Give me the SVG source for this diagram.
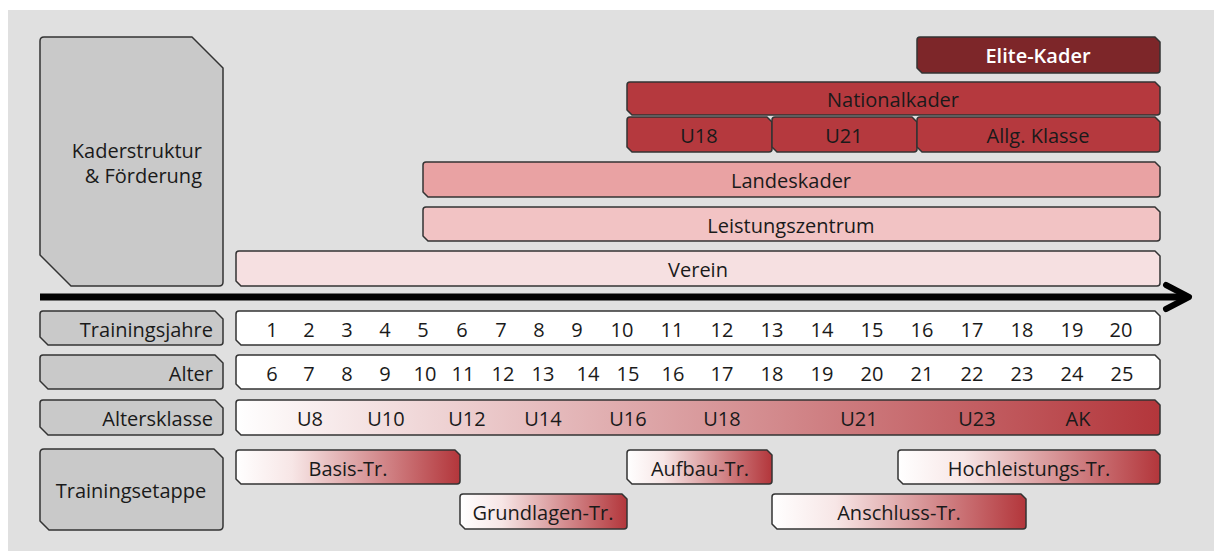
<svg xmlns="http://www.w3.org/2000/svg" width="1214" height="551" viewBox="0 0 1214 551">
<defs>
<linearGradient id="gRow" x1="0" y1="0" x2="1" y2="0">
<stop offset="0" stop-color="#ffffff"/>
<stop offset="1" stop-color="#b3363b"/>
</linearGradient>
<linearGradient id="gStage" x1="0" y1="0" x2="1" y2="0">
<stop offset="0" stop-color="#ffffff"/>
<stop offset="0.25" stop-color="#f7e6e6"/>
<stop offset="1" stop-color="#b3363b"/>
</linearGradient>
</defs>
<style>
.s{stroke:#333;stroke-width:1.5;stroke-linejoin:round}
.gray{fill:#c9c9c9}
.t{font-family:"Open Sans","Liberation Sans",Arial,sans-serif;font-size:20px;fill:#1a1a1a;text-anchor:middle}
.r{text-anchor:end}
.w{fill:#ffffff;font-weight:600}
.elite{fill:#7d2629}
.nat{fill:#b5393e}
.land{fill:#e9a2a3}
.leis{fill:#f2c3c4}
.ver{fill:#f6e0e1}
.white{fill:#ffffff}
.grad{fill:url(#gRow)}
.stage{fill:url(#gStage)}
.axis{stroke:#000;stroke-width:7;fill:none}
.head{stroke:#000;stroke-width:6;fill:none;stroke-linecap:round;stroke-linejoin:round}
</style>
<rect x="8" y="10" width="1206" height="541" fill="#e0e0e0"/>

<g id="kaderstruktur">
<path class="s gray" d="M44,37 H192 L223,68 V282 Q223,286 219,286 H71 L40,255 V41 Q40,37 44,37 Z"/>
<text class="t r" x="202" y="158">Kaderstruktur</text>
<text class="t r" x="202" y="183">&amp; Förderung</text>
</g>

<g id="elite-kader">
<path class="s elite" d="M920,37 H1155 L1160,42 V70 Q1160,73 1157,73 H922 L917,68 V40 Q917,37 920,37 Z"/>
<text class="t w" x="1038" y="63">Elite-Kader</text>
</g>

<g id="nationalkader">
<path class="s nat" d="M630,82 H1155 L1160,87 V112 Q1160,115 1157,115 H632 L627,110 V85 Q627,82 630,82 Z"/>
<text class="t" x="893" y="107">Nationalkader</text>
</g>

<g id="u18">
<path class="s nat" d="M630,117 H767 L772,122 V149 Q772,152 769,152 H632 L627,147 V120 Q627,117 630,117 Z"/>
<text class="t" x="699" y="143">U18</text>
</g>
<g id="u21">
<path class="s nat" d="M775,117 H912 L917,122 V149 Q917,152 914,152 H777 L772,147 V120 Q772,117 775,117 Z"/>
<text class="t" x="844" y="143">U21</text>
</g>
<g id="allg-klasse">
<path class="s nat" d="M920,117 H1155 L1160,122 V149 Q1160,152 1157,152 H922 L917,147 V120 Q917,117 920,117 Z"/>
<text class="t" x="1038" y="143">Allg. Klasse</text>
</g>

<g id="landeskader">
<path class="s land" d="M426,162 H1155 L1160,167 V194 Q1160,197 1157,197 H428 L423,192 V165 Q423,162 426,162 Z"/>
<text class="t" x="791" y="188">Landeskader</text>
</g>

<g id="leistungszentrum">
<path class="s leis" d="M426,207 H1155 L1160,212 V238 Q1160,241 1157,241 H428 L423,236 V210 Q423,207 426,207 Z"/>
<text class="t" x="791" y="233">Leistungszentrum</text>
</g>

<g id="verein">
<path class="s ver" d="M239,251 H1155 L1160,256 V283 Q1160,286 1157,286 H241 L236,281 V254 Q236,251 239,251 Z"/>
<text class="t" x="698" y="277">Verein</text>
</g>

<g id="connectors">
<line class="axis" x1="40" y1="297" x2="1186" y2="297"/>
<polyline class="head" points="1166,285 1189,297 1166,309"/>
</g>

<g id="trainingsjahre-label">
<path class="s gray" d="M43,311 H215 L223,319 V342 Q223,345 220,345 H48 L40,337 V314 Q40,311 43,311 Z"/>
<text class="t r" x="213" y="337">Trainingsjahre</text>
</g>
<g id="trainingsjahre">
<path class="s white" d="M239,311 H1155 L1160,316 V342 Q1160,345 1157,345 H241 L236,340 V314 Q236,311 239,311 Z"/>
<text class="t" x="272" y="337">1</text><text class="t" x="309" y="337">2</text><text class="t" x="347" y="337">3</text><text class="t" x="385" y="337">4</text><text class="t" x="423" y="337">5</text><text class="t" x="462" y="337">6</text><text class="t" x="501" y="337">7</text><text class="t" x="539" y="337">8</text><text class="t" x="577" y="337">9</text><text class="t" x="622" y="337">10</text><text class="t" x="672" y="337">11</text><text class="t" x="722" y="337">12</text><text class="t" x="772" y="337">13</text><text class="t" x="822" y="337">14</text><text class="t" x="872" y="337">15</text><text class="t" x="922" y="337">16</text><text class="t" x="972" y="337">17</text><text class="t" x="1022" y="337">18</text><text class="t" x="1072" y="337">19</text><text class="t" x="1121" y="337">20</text>
</g>

<g id="alter-label">
<path class="s gray" d="M43,355 H215 L223,363 V386 Q223,389 220,389 H48 L40,381 V358 Q40,355 43,355 Z"/>
<text class="t r" x="213" y="381">Alter</text>
</g>
<g id="alter">
<path class="s white" d="M239,355 H1155 L1160,360 V386 Q1160,389 1157,389 H241 L236,384 V358 Q236,355 239,355 Z"/>
<text class="t" x="272" y="381">6</text><text class="t" x="309" y="381">7</text><text class="t" x="347" y="381">8</text><text class="t" x="385" y="381">9</text><text class="t" x="425" y="381">10</text><text class="t" x="463" y="381">11</text><text class="t" x="503" y="381">12</text><text class="t" x="543" y="381">13</text><text class="t" x="588" y="381">14</text><text class="t" x="628" y="381">15</text><text class="t" x="673" y="381">16</text><text class="t" x="722" y="381">17</text><text class="t" x="772" y="381">18</text><text class="t" x="822" y="381">19</text><text class="t" x="872" y="381">20</text><text class="t" x="922" y="381">21</text><text class="t" x="972" y="381">22</text><text class="t" x="1022" y="381">23</text><text class="t" x="1072" y="381">24</text><text class="t" x="1122" y="381">25</text>
</g>

<g id="altersklasse-label">
<path class="s gray" d="M43,400 H215 L223,408 V432 Q223,435 220,435 H48 L40,427 V403 Q40,400 43,400 Z"/>
<text class="t r" x="213" y="426">Altersklasse</text>
</g>
<g id="altersklasse">
<path class="s grad" d="M239,400 H1155 L1160,405 V432 Q1160,435 1157,435 H241 L236,430 V403 Q236,400 239,400 Z"/>
<text class="t" x="310" y="426">U8</text><text class="t" x="386" y="426">U10</text><text class="t" x="467" y="426">U12</text><text class="t" x="543" y="426">U14</text><text class="t" x="628" y="426">U16</text><text class="t" x="722" y="426">U18</text><text class="t" x="859" y="426">U21</text><text class="t" x="977" y="426">U23</text><text class="t" x="1078" y="426">AK</text>
</g>

<g id="trainingsetappe-label">
<path class="s gray" d="M44,449 H214 L223,458 V526 Q223,530 219,530 H49 L40,521 V453 Q40,449 44,449 Z"/>
<text class="t" x="131" y="498">Trainingsetappe</text>
</g>

<g id="basis-tr">
<path class="s stage" d="M239,450 H455 L460,455 V481 Q460,484 457,484 H241 L236,479 V453 Q236,450 239,450 Z"/>
<text class="t" x="348" y="476">Basis-Tr.</text>
</g>
<g id="grundlagen-tr">
<path class="s stage" d="M463,494 H622 L627,499 V526 Q627,529 624,529 H465 L460,524 V497 Q460,494 463,494 Z"/>
<text class="t" x="543" y="520">Grundlagen-Tr.</text>
</g>
<g id="aufbau-tr">
<path class="s stage" d="M630,450 H767 L772,455 V481 Q772,484 769,484 H632 L627,479 V453 Q627,450 630,450 Z"/>
<text class="t" x="700" y="476">Aufbau-Tr.</text>
</g>
<g id="anschluss-tr">
<path class="s stage" d="M775,494 H1021 L1026,499 V526 Q1026,529 1023,529 H777 L772,524 V497 Q772,494 775,494 Z"/>
<text class="t" x="899" y="520">Anschluss-Tr.</text>
</g>
<g id="hochleistungs-tr">
<path class="s stage" d="M901,450 H1155 L1160,455 V481 Q1160,484 1157,484 H903 L898,479 V453 Q898,450 901,450 Z"/>
<text class="t" x="1029" y="476">Hochleistungs-Tr.</text>
</g>
</svg>
